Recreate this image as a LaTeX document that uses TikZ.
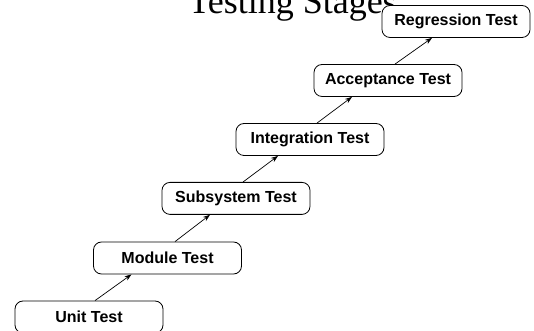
\documentclass[tikz,border=0pt]{standalone}
\usepackage{fontspec}
\setmainfont{Liberation Sans}
\newfontfamily\titlefont{Liberation Serif}
\usetikzlibrary{arrows.meta}

\begin{document}
\begin{tikzpicture}[
  x=1pt, y=1pt,
  stage/.style={draw=black, fill=white, rounded corners=8pt, line width=0.8pt,
                font=\fontsize{16}{18}\selectfont\bfseries, inner xsep=10pt,
                minimum width=148pt, minimum height=32pt},
  arr/.style={-{Stealth[length=7pt,width=5pt]}, line width=0.7pt}
]
\useasboundingbox (0,0) rectangle (534,331);
\node[font=\titlefont\fontsize{36}{40}\selectfont, anchor=base] (title) at (292.5,317) {Testing Stages};
\node[stage] (unit) at (89,14) {Unit Test};
\node[stage] (module) at (167.5,73) {Module Test};
\node[stage] (subsys) at (236,132.6) {Subsystem Test};
\node[stage] (integ) at (310,191.5) {Integration Test};
\node[stage] (accept) at (388,250.5) {Acceptance Test};
\node[stage] (regress) at (456,309.5) {Regression Test};
\draw[arr] ([xshift=6pt]unit.north) -- ([xshift=-36pt]module.south);
\draw[arr] ([xshift=7.5pt]module.north) -- ([xshift=-26pt]subsys.south);
\draw[arr] ([xshift=7pt]subsys.north) -- ([xshift=-32pt]integ.south);
\draw[arr] ([xshift=7pt]integ.north) -- ([xshift=-36pt]accept.south);
\draw[arr] ([xshift=7pt]accept.north) -- ([xshift=-24pt]regress.south);
\end{tikzpicture}
\end{document}
